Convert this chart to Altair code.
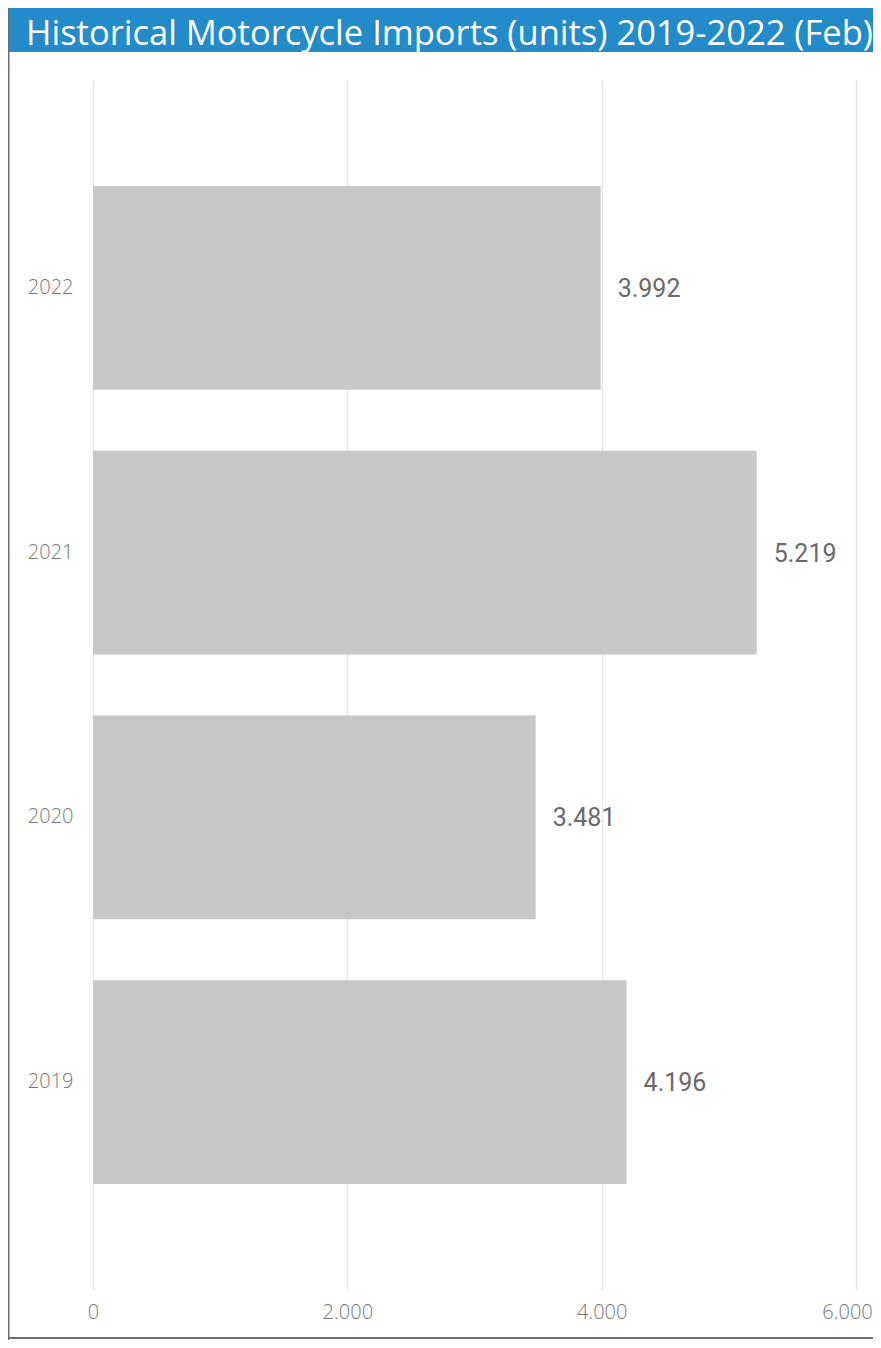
import altair as alt
import pandas as pd

# Data
years = ["2022", "2021", "2020", "2019"]
units = [3992, 5219, 3481, 4196]
x_ticks = [0, 2000, 4000, 6000]
title_text = "Historical Motorcycle Imports (units) 2019-2022 (Feb)"

df = pd.DataFrame({"year": years, "units": units})

W, H = 763, 1210
PAD_L, PAD_T, PAD_R, PAD_B = 85, 72, 17, 50

base = alt.Chart(df)

y_enc = alt.Y(
    "year:N",
    sort=years,
    scale=alt.Scale(paddingInner=0.23, paddingOuter=0.4),
    axis=alt.Axis(
        title=None, ticks=False, domain=False, grid=False,
        labelFontSize=20, labelColor="#777777", labelFont="Open Sans",
        labelFontWeight=300, labelPadding=20,
    ),
)

x_enc = alt.X(
    "units:Q",
    scale=alt.Scale(domain=[0, 6000], nice=False, zero=True),
    axis=alt.Axis(
        title=None, values=x_ticks, ticks=False, domain=False,
        grid=True, gridColor="#e6e6e6", gridWidth=1.5,
        labelFontSize=20, labelColor="#777777", labelFont="Open Sans",
        labelFontWeight=300, labelPadding=12,
        labelExpr="replace(format(datum.value, ','), ',', '.')",
        labelFlush=False,
        labelOffset={"condition": {"test": "datum.value == 6000", "value": -9}, "value": 0},
    ),
)

bars = base.mark_bar(color="#c8c8c8").encode(x=x_enc, y=y_enc)

labels = base.transform_calculate(
    lbl="replace(format(datum.units, ','), ',', '.')"
).mark_text(
    align="left", baseline="middle", dx=17, dy=1,
    font="Roboto", fontSize=25, fontWeight=400, color="#6a6a6a",
).encode(x="units:Q", y=alt.Y("year:N", sort=years), text="lbl:N")

# Decorative header band and frame
deco = pd.DataFrame({"k": [0]})
band = alt.Chart(deco).mark_rect(color="#238bca").encode(
    x=alt.value(-84), x2=alt.value(W + 40),
    y=alt.value(-80), y2=alt.value(-28),
)
title = alt.Chart(deco).mark_text(
    align="left", baseline="alphabetic", font="Open Sans",
    fontSize=34.5, color="white",
).encode(x=alt.value(-67), y=alt.value(-35), text=alt.value(title_text))
left_line = alt.Chart(deco).mark_rule(color="#6e6e6e", strokeWidth=2).encode(
    x=alt.value(-84.5), y=alt.value(-80), y2=alt.value(1260)
)
bottom_line = alt.Chart(deco).mark_rule(color="#6e6e6e", strokeWidth=2).encode(
    x=alt.value(-86), x2=alt.value(W + 40), y=alt.value(1258)
)

chart = alt.layer(bars, labels, band, title, left_line, bottom_line).properties(
    width=W, height=H,
    autosize=alt.AutoSizeParams(type="none"),
    padding={"left": PAD_L, "top": PAD_T, "right": PAD_R, "bottom": PAD_B},
).configure(
    background="white",
    view=alt.ViewConfig(stroke="transparent", strokeWidth=0),
)

chart.save("out.html", embed_options={"renderer": "svg", "actions": False})
